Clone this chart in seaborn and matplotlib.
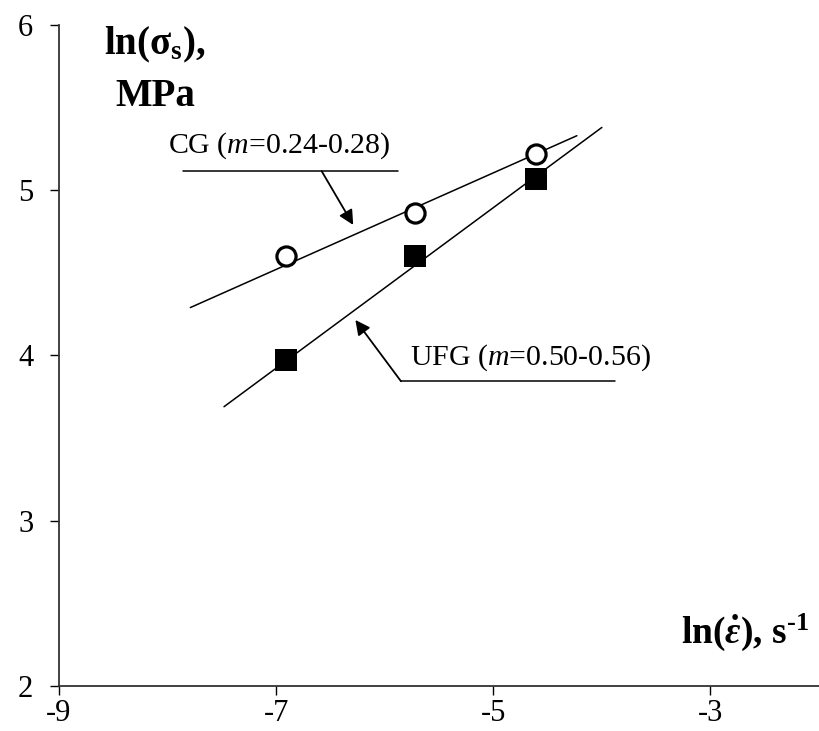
import matplotlib
matplotlib.use("Agg")
import matplotlib.pyplot as plt
import seaborn as sns
import pandas as pd

# ln(strain rate), s^-1
strain_rate_ln = [-6.91, -5.72, -4.61]
# ln(flow stress), MPa
cg_stress_ln = [4.60, 4.865, 5.22]
ufg_stress_ln = [3.97, 4.60, 5.07]

# end points of the fitted straight lines
cg_fit_x = [-7.79, -4.23]
cg_fit_y = [4.29, 5.33]
ufg_fit_x = [-7.48, -4.00]
ufg_fit_y = [3.69, 5.38]

x_ticks = [-9, -7, -5, -3]
y_ticks = [2, 3, 4, 5, 6]

cg_label = "CG ($\\mathit{m}$=0.24-0.28)"
ufg_label = "UFG ($\\mathit{m}$=0.50-0.56)"

sns.set_theme(style="white")
plt.rcParams["font.family"] = ["Liberation Serif", "DejaVu Serif"]
plt.rcParams["mathtext.fontset"] = "custom"
plt.rcParams["mathtext.rm"] = "Liberation Serif"
plt.rcParams["mathtext.it"] = "Liberation Serif:italic"
plt.rcParams["mathtext.bf"] = "Liberation Serif:bold"
plt.rcParams["mathtext.bfit"] = "Liberation Serif:bold:italic"
plt.rcParams["text.color"] = "black"
plt.rcParams["xtick.color"] = "black"
plt.rcParams["ytick.color"] = "black"

fig = plt.figure(figsize=(8.19, 7.31), dpi=100)
ax = fig.add_axes([0.072, 0.0616, 0.928, 0.9042])

points = pd.DataFrame({
    "x": strain_rate_ln * 2,
    "y": cg_stress_ln + ufg_stress_ln,
    "grain": ["CG"] * 3 + ["UFG"] * 3,
})
fits = pd.DataFrame({
    "x": cg_fit_x + ufg_fit_x,
    "y": cg_fit_y + ufg_fit_y,
    "grain": ["CG"] * 2 + ["UFG"] * 2,
})

sns.lineplot(data=fits, x="x", y="y", units="grain", estimator=None,
             color="black", linewidth=1.1, ax=ax, sort=False)

cg = points[points.grain == "CG"]
ufg = points[points.grain == "UFG"]
sns.scatterplot(data=cg, x="x", y="y", marker="o", s=190,
                facecolor="white", edgecolor="black", linewidth=2.3,
                ax=ax, zorder=3)
sns.scatterplot(data=ufg, x="x", y="y", marker="s", s=250,
                color="black", edgecolor="black", linewidth=0,
                ax=ax, zorder=3)

ax.set_xlim(-9, -2)
ax.set_ylim(2, 6)
ax.set_xticks(x_ticks)
ax.set_yticks(y_ticks)
ax.set_xticklabels([str(v) for v in x_ticks])
ax.set_yticklabels([str(v) for v in y_ticks])
ax.tick_params(axis="both", which="major", direction="out", length=6.5,
               width=1.0, labelsize=22, bottom=True, left=True)
ax.tick_params(axis="x", pad=3)
ax.tick_params(axis="y", pad=12)
for t in ax.get_xticklabels() + ax.get_yticklabels():
    t.set_color("black")
ax.set_xlabel("")
ax.set_ylabel("")

for side in ["top", "right"]:
    ax.spines[side].set_visible(False)
for side in ["left", "bottom"]:
    ax.spines[side].set_color("#333333")
    ax.spines[side].set_linewidth(1.3)

# axis titles placed inside the plot area
ax.text(-8.115, 5.824, "ln(σ$_\\mathbf{s}$),", fontsize=28,
        fontweight="bold", ha="center", va="baseline")
ax.text(-8.115, 5.509, "MPa", fontsize=28, fontweight="bold",
        ha="center", va="baseline")
ax.text(-2.097, 2.26,
        "ln($\\mathbfit{\\dot{\\varepsilon}}$), s$^\\mathbf{\u20101}$",
        fontsize=27, fontweight="bold", ha="right", va="baseline")

# callouts for the two grain structures
ax.text(-8.0, 5.23, cg_label, fontsize=21.5, ha="left", va="baseline")
ax.plot([-7.86, -5.88], [5.115, 5.115], color="black", linewidth=1.1)
ax.annotate("", xy=(-6.29, 4.79), xytext=(-6.58, 5.115),
            arrowprops=dict(arrowstyle="-|>", color="black", lw=1.3,
                            mutation_scale=22, shrinkA=0, shrinkB=0))

ax.text(-5.765, 3.945, ufg_label, fontsize=21.5, ha="left", va="baseline")
ax.plot([-5.85, -3.88], [3.844, 3.844], color="black", linewidth=1.1)
ax.annotate("", xy=(-6.27, 4.215), xytext=(-5.85, 3.844),
            arrowprops=dict(arrowstyle="-|>", color="black", lw=1.3,
                            mutation_scale=22, shrinkA=0, shrinkB=0))

fig.savefig("out.png", dpi=100)
